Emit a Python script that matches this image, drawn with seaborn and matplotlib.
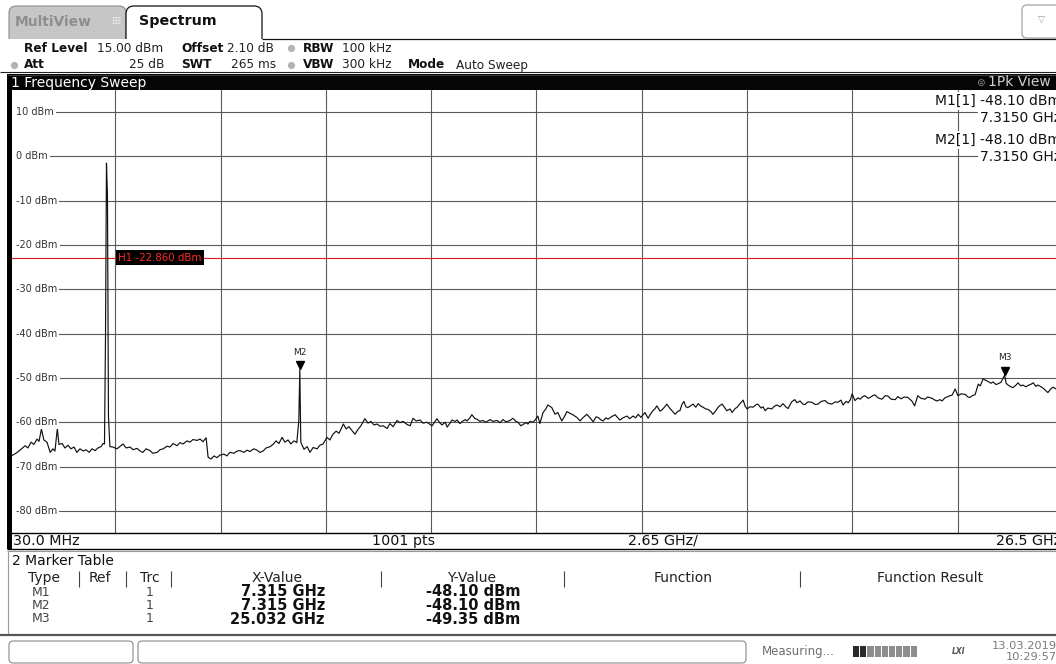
import numpy as np
import pandas as pd
import matplotlib
matplotlib.use("Agg")
import matplotlib.pyplot as plt
import seaborn as sns
from matplotlib.patches import Rectangle, FancyBboxPatch
from matplotlib.transforms import offset_copy, blended_transform_factory

# ---- instrument settings -------------------------------------------------
start_ghz = 0.03
stop_ghz = 26.5
sweep_points = 1001
ref_level_dbm = 15.0
db_per_div = 10
h1_level_dbm = -22.86

grid_dbm = [10, 0, -10, -20, -30, -40, -50, -60, -70, -80]

# ---- trace 1 (1Pk View) --------------------------------------------------
trace_ghz = [
    0.03, 0.08, 0.18, 0.28, 0.41, 0.48, 0.56, 0.63, 0.71, 0.76,
    0.82, 0.88, 0.96, 1.04, 1.11, 1.16, 1.22, 1.26, 1.34, 1.41,
    1.49, 1.56, 1.64, 1.71, 1.79, 1.87, 1.94, 2.02, 2.09, 2.17,
    2.24, 2.32, 2.37, 2.405, 2.43, 2.455, 2.48, 2.505, 2.54, 2.62,
    2.72, 2.80, 2.87, 2.95, 3.05, 3.12, 3.22, 3.30, 3.37, 3.45,
    3.55, 3.62, 3.73, 3.80, 3.88, 3.98, 4.05, 4.13, 4.23, 4.30,
    4.38, 4.48, 4.55, 4.63, 4.73, 4.81, 4.88, 4.96, 5.01, 5.08,
    5.16, 5.23, 5.31, 5.41, 5.48, 5.56, 5.66, 5.74, 5.81, 5.91,
    5.99, 6.06, 6.16, 6.24, 6.31, 6.39, 6.47, 6.57, 6.64, 6.72,
    6.79, 6.87, 6.94, 7.02, 7.09, 7.17, 7.24, 7.29, 7.315, 7.34,
    7.42, 7.50, 7.57, 7.65, 7.75, 7.82, 7.90, 8.00, 8.07, 8.15,
    8.23, 8.30, 8.41, 8.48, 8.55, 8.63, 8.70, 8.78, 8.85, 8.95,
    9.03, 9.10, 9.18, 9.26, 9.33, 9.41, 9.51, 9.58, 9.66, 9.76,
    9.83, 9.91, 10.01, 10.09, 10.16, 10.24, 10.34, 10.41, 10.51, 10.59,
    10.64, 10.71, 10.76, 10.84, 10.89, 10.97, 11.02, 11.09, 11.14, 11.22,
    11.27, 11.34, 11.39, 11.47, 11.52, 11.59, 11.64, 11.72, 11.77, 11.84,
    11.92, 11.99, 12.10, 12.17, 12.27, 12.35, 12.42, 12.50, 12.60, 12.67,
    12.75, 12.80, 12.87, 13.00, 13.05, 13.10, 13.18, 13.23, 13.30, 13.35,
    13.43, 13.50, 13.55, 13.60, 13.65, 13.73, 13.80, 13.90, 13.98, 14.03,
    14.11, 14.16, 14.23, 14.28, 14.36, 14.43, 14.53, 14.61, 14.69, 14.76,
    14.81, 14.89, 14.94, 15.01, 15.06, 15.16, 15.24, 15.31, 15.36, 15.44,
    15.54, 15.61, 15.69, 15.76, 15.82, 15.89, 15.99, 16.07, 16.12, 16.19,
    16.24, 16.29, 16.37, 16.42, 16.49, 16.54, 16.62, 16.67, 16.75, 16.82,
    16.87, 16.92, 16.97, 17.02, 17.07, 17.15, 17.20, 17.27, 17.33, 17.40,
    17.45, 17.52, 17.58, 17.65, 17.70, 17.78, 17.83, 17.88, 17.93, 18.00,
    18.05, 18.13, 18.18, 18.26, 18.31, 18.38, 18.46, 18.51, 18.56, 18.63,
    18.71, 18.79, 18.83, 18.91, 18.96, 19.01, 19.08, 19.18, 19.24, 19.31,
    19.39, 19.46, 19.54, 19.59, 19.64, 19.69, 19.76, 19.81, 19.89, 19.96,
    20.01, 20.09, 20.19, 20.27, 20.34, 20.42, 20.52, 20.59, 20.69, 20.77,
    20.84, 20.92, 20.97, 21.05, 21.10, 21.15, 21.20, 21.27, 21.35, 21.40,
    21.47, 21.52, 21.60, 21.65, 21.72, 21.77, 21.85, 21.95, 22.03, 22.10,
    22.18, 22.28, 22.35, 22.43, 22.51, 22.60, 22.70, 22.77, 22.85, 22.93,
    23.03, 23.10, 23.21, 23.28, 23.33, 23.41, 23.46, 23.53, 23.58, 23.66,
    23.71, 23.79, 23.86, 23.94, 24.04, 24.11, 24.16, 24.24, 24.29, 24.37,
    24.42, 24.49, 24.57, 24.62, 24.69, 24.74, 24.82, 24.87, 24.94, 25.032,
    25.07, 25.12, 25.19, 25.24, 25.32, 25.37, 25.44, 25.49, 25.57, 25.62,
    25.70, 25.75, 25.82, 25.87, 25.95, 26.00, 26.07, 26.12, 26.20, 26.25,
    26.35, 26.50,
]
trace_dbm = [
    -67.8, -67.5, -67.0, -66.3, -65.3, -65.8, -64.5, -65.0, -63.8, -64.3,
    -61.5, -64.0, -64.5, -66.8, -66.0, -66.5, -61.4, -65.0, -64.8, -65.8,
    -65.2, -66.0, -65.6, -66.8, -66.0, -66.5, -66.2, -66.8, -66.0, -66.4,
    -65.8, -65.5, -64.8, -64.9, -41.6, -1.5, -8.7, -58.6, -65.5, -65.6,
    -66.0, -65.4, -64.9, -65.8, -65.6, -66.2, -65.9, -66.5, -66.8, -66.0,
    -66.4, -67.0, -66.8, -66.2, -66.0, -65.4, -65.6, -64.8, -65.3, -64.6,
    -64.9, -64.2, -64.5, -63.9, -64.1, -63.8, -64.4, -63.5, -67.9, -68.3,
    -67.6, -68.0, -67.4, -67.2, -67.6, -66.8, -67.0, -66.5, -66.4, -66.8,
    -66.3, -66.6, -66.0, -66.3, -66.8, -66.5, -65.8, -65.5, -65.0, -64.2,
    -64.8, -63.4, -64.5, -64.0, -64.9, -64.2, -64.6, -59.6, -48.10, -64.5,
    -66.1, -65.5, -66.8, -65.7, -66.0, -65.2, -64.9, -63.4, -64.0, -62.7,
    -62.0, -62.5, -60.4, -61.5, -61.0, -61.9, -62.7, -61.6, -60.8, -59.2,
    -60.2, -59.8, -60.6, -60.4, -60.9, -60.8, -61.4, -60.3, -61.0, -59.6,
    -60.1, -59.8, -60.5, -60.8, -59.1, -59.7, -59.5, -60.2, -60.0, -60.5,
    -60.8, -59.9, -59.2, -60.2, -60.6, -60.0, -61.1, -60.2, -59.5, -59.8,
    -59.5, -60.3, -59.9, -59.4, -59.7, -59.0, -58.3, -59.2, -59.3, -59.8,
    -59.6, -60.0, -59.4, -59.8, -59.6, -60.1, -59.4, -59.9, -59.6, -59.1,
    -59.8, -60.0, -60.8, -60.1, -60.4, -59.8, -60.0, -59.5, -58.6, -60.3,
    -57.8, -57.0, -56.1, -56.4, -56.7, -58.2, -57.8, -59.7, -58.5, -57.6,
    -58.0, -58.2, -58.6, -58.9, -59.7, -59.0, -58.2, -59.0, -59.9, -58.8,
    -58.9, -59.5, -59.7, -59.0, -59.3, -58.7, -58.3, -59.0, -59.5, -59.0,
    -58.6, -59.2, -58.6, -59.0, -58.2, -58.9, -57.8, -59.1, -58.3, -57.4,
    -57.0, -56.3, -57.5, -57.2, -56.5, -55.9, -56.9, -57.4, -58.2, -57.5,
    -57.4, -56.0, -55.3, -56.5, -56.7, -56.2, -55.9, -56.6, -55.8, -56.4,
    -56.6, -57.0, -57.1, -57.6, -58.2, -57.3, -56.6, -56.2, -55.9, -56.8,
    -57.4, -57.0, -57.8, -56.9, -56.6, -55.8, -55.0, -56.4, -57.0, -56.5,
    -56.6, -56.0, -55.9, -56.8, -56.5, -57.4, -56.8, -57.0, -56.4, -56.1,
    -56.5, -55.8, -56.6, -56.9, -56.0, -55.3, -54.9, -55.6, -55.2, -55.9,
    -56.0, -55.4, -55.5, -56.0, -55.9, -55.3, -55.1, -55.7, -55.9, -55.4,
    -55.5, -55.0, -56.1, -55.3, -55.6, -55.0, -53.6, -55.1, -54.5, -54.8,
    -54.2, -54.0, -54.6, -54.4, -54.0, -53.8, -54.5, -54.8, -54.0, -54.1,
    -54.8, -54.9, -54.2, -54.7, -54.3, -54.4, -55.2, -56.3, -54.0, -54.6,
    -54.8, -54.3, -54.6, -55.0, -55.2, -54.9, -55.2, -54.5, -54.3, -54.0,
    -53.9, -52.5, -54.0, -53.6, -53.7, -54.3, -54.4, -53.9, -53.8, -51.4,
    -51.8, -50.2, -50.6, -50.8, -51.2, -50.9, -51.5, -51.3, -51.0, -49.35,
    -51.2, -51.6, -52.0, -52.2, -51.6, -51.1, -51.8, -51.6, -52.0, -51.7,
    -51.4, -51.1, -51.9, -51.6, -52.0, -52.3, -52.9, -53.3, -52.4, -52.1,
    -52.6, -52.3,
]
assert len(trace_ghz) == len(trace_dbm)

# ---- markers ---------------------------------------------------------------
marker_names = ["M1", "M2", "M3"]
marker_trc = [1, 1, 1]
marker_ghz = [7.315, 7.315, 25.032]
marker_dbm = [-48.10, -48.10, -49.35]

table_columns = ["Type", "Ref", "Trc", "X-Value", "Y-Value", "Function", "Function Result"]

W, H = 1056, 664

sns.set_theme(style="white")
plt.rcParams["font.family"] = ["DejaVu Sans"]

fig = plt.figure(figsize=(W / 100, H / 100), dpi=100)
fig.patch.set_facecolor("white")

# diagram area in screen pixels: x 10..1063, y 90..533 (runs past the right edge)
ax = fig.add_axes([10 / W, 1 - 533 / H, 1053 / W, 443 / H])
ax.set_facecolor("white")

df = pd.DataFrame({"ghz": trace_ghz, "dbm": trace_dbm})
sns.lineplot(data=df, x="ghz", y="dbm", ax=ax, color="#111111", linewidth=0.85,
             sort=False, estimator=None, zorder=3)
ax.set_xlim(start_ghz, stop_ghz)
ax.set_ylim(ref_level_dbm - 10 * db_per_div, ref_level_dbm)
ax.set_xticks(np.linspace(start_ghz, stop_ghz, 11))
ax.set_yticks(grid_dbm)
grid_c = "#5a5a5a"
ax.grid(True, axis="x", color=grid_c, linewidth=0.8)
for v in grid_dbm:
    # level lines start just right of the frame; the labels cover their left end
    ax.axhline(v, xmin=5 / 1053, xmax=1, color=grid_c, linewidth=0.8, zorder=0.6)
ax.tick_params(length=0, labelbottom=False, labelleft=False)
ax.set_xlabel("")
ax.set_ylabel("")
for sp in ax.spines.values():
    sp.set_visible(False)

lbl_tf = blended_transform_factory(ax.transAxes, ax.transData)
for v in grid_dbm:
    ax.text(6.5 / 1053, v, f"{v} dBm", transform=lbl_tf, ha="left", va="center",
            fontsize=7, color="#333333", zorder=4,
            bbox=dict(facecolor="white", edgecolor="none", pad=1.2))

# horizontal line H1
ax.axhline(h1_level_dbm, color="#e3161c", linewidth=0.8, zorder=2.5)
ax.text(108.5 / 1053, h1_level_dbm, f"H1 {h1_level_dbm:.3f} dBm", transform=lbl_tf,
        ha="left", va="center", fontsize=7.4, color="#ff2a2a", zorder=5,
        bbox=dict(facecolor="black", edgecolor="none", pad=1.8))

# marker symbols: tip of the triangle on the trace point, name above
tip_tf = offset_copy(ax.transData, fig=fig, x=0, y=4.3, units="dots")
pairs = list(zip(marker_ghz, marker_dbm))
for i, name in enumerate(marker_names):
    if pairs[i] in pairs[i + 1:]:
        continue  # hidden below a later marker at the same spot
    ax.plot([marker_ghz[i]], [marker_dbm[i]], marker="v", markersize=6, color="black",
            transform=tip_tf, zorder=6, clip_on=False)
    ax.annotate(name, (marker_ghz[i], marker_dbm[i]), xytext=(0, 12.5),
                textcoords="offset points", ha="center", va="center",
                fontsize=6.5, color="#222222", zorder=6)

# ---- screen furniture, drawn in pixel coordinates --------------------------
ui = fig.add_axes([0, 0, 1, 1], zorder=5)
ui.set_xlim(0, W)
ui.set_ylim(H, 0)
ui.axis("off")
ui.patch.set_alpha(0)


def box(x, y, w, h, fc, ec="none", lw=0.0, r=0, z=1):
    if r:
        p = FancyBboxPatch((x, y), w, h, boxstyle=f"round,pad=0,rounding_size={r}",
                           fc=fc, ec=ec, lw=lw, zorder=z)
    else:
        p = Rectangle((x, y), w, h, fc=fc, ec=ec, lw=lw, zorder=z)
    ui.add_patch(p)


def hline(y, x0, x1, color, lw=0.8, z=3):
    ui.plot([x0, x1], [y, y], color=color, lw=lw, zorder=z, solid_capstyle="butt")


def vline(x, y0, y1, color, lw=0.8, z=3):
    ui.plot([x, x], [y0, y1], color=color, lw=lw, zorder=z, solid_capstyle="butt")


def txt(x, y, s, size=10, color="#111111", weight="normal", ha="left", va="center",
        z=4, **kw):
    ui.text(x, y, s, fontsize=size, color=color, fontweight=weight, ha=ha, va=va,
            zorder=z, **kw)


# tabs
box(9, 6, 117, 45, fc="#c6c6c6", ec="#8c8c8c", lw=0.8, r=7, z=1)
box(126, 6, 136, 45, fc="white", ec="#111111", lw=0.9, r=8, z=2)
box(0, 38.6, W, 33, fc="white", z=2.5)
hline(38.5, 262, W, "#111111", lw=0.9)
txt(15, 22, "MultiView", size=10, color="#8e8e8e", weight="bold")
txt(117, 21, "⊞", size=8, color="#e8e8e8", ha="center")
txt(139, 21, "Spectrum", size=10.3, color="#111111", weight="bold")
box(1022, 5, 42, 33, fc="white", ec="#9a9a9a", lw=0.8, r=5, z=2)
txt(1041, 20, "▽", size=6.5, color="#9a9a9a", ha="center")

# setting lines
dot_c = "#b4b4b4"
s1, s2 = 48, 65
txt(24, s1, "Ref Level", size=8.7, weight="bold")
txt(97, s1, f"{ref_level_dbm:.2f} dBm", size=8.7, color="#222222")
txt(181, s1, "Offset", size=8.7, weight="bold")
txt(227, s1, "2.10 dB", size=8.7, color="#222222")
ui.plot([291], [s1], "o", ms=4.2, color=dot_c, zorder=4)
txt(303, s1, "RBW", size=8.7, weight="bold")
txt(342, s1, "100 kHz", size=8.7, color="#222222")
ui.plot([14], [s2], "o", ms=4.2, color=dot_c, zorder=4)
txt(24, s2, "Att", size=8.7, weight="bold")
txt(164, s2, "25 dB", size=8.7, color="#222222", ha="right")
txt(181, s2, "SWT", size=8.7, weight="bold")
txt(231, s2, "265 ms", size=8.7, color="#222222")
ui.plot([291], [s2], "o", ms=4.2, color=dot_c, zorder=4)
txt(303, s2, "VBW", size=8.7, weight="bold")
txt(342, s2, "300 kHz", size=8.7, color="#222222")
txt(408, s2, "Mode", size=8.7, weight="bold")
txt(456, s2, "Auto Sweep", size=8.7, color="#222222")
hline(72, 0, W, "#222222", lw=0.8)

# window title bar and left frame
box(7, 74, 1060, 16, fc="#050505", z=2)
hline(74.6, 7, W, "#3c3c3c", lw=0.8)
box(7, 74, 4.5, 475, fc="black", z=2)
txt(11, 82.5, "1 Frequency Sweep", size=10, color="white")
txt(980, 82.5, "⊜", size=7.5, color="#8a8a8a", ha="center")
txt(1051, 82.5, "1Pk View", size=10, color="#cfcfcf", ha="right")

# marker readout in the diagram corner
for k, i in enumerate([0, 1]):
    y0 = 101 + 39 * k
    txt(1061, y0, f"{marker_names[i]}[{marker_trc[i]}] {marker_dbm[i]:.2f} dBm",
        size=10, color="#111111", ha="right",
        bbox=dict(facecolor="white", edgecolor="none", pad=1.5))
    txt(1061, y0 + 17, f"{marker_ghz[i]:.4f} GHz", size=10, color="#111111", ha="right",
        bbox=dict(facecolor="white", edgecolor="none", pad=1.5))

# frequency axis strip
hline(533, 7, W, "black", lw=1.0)
strip_y = 541
txt(13, strip_y, f"{start_ghz * 1000:.1f} MHz", size=10.3)
txt(404, strip_y, f"{sweep_points} pts", size=10.3, ha="center")
txt(663, strip_y, f"{(stop_ghz - start_ghz) / 10:.2f} GHz/", size=10.3, ha="center")
txt(1061, strip_y, f"{stop_ghz:.1f} GHz", size=10.3, ha="right")
hline(549, 7, W, "black", lw=1.0)
hline(551, 7, W, "#9a9a9a", lw=0.8)

# marker table
vline(8, 551, 634, "#9a9a9a", lw=0.8)
txt(12, 561, "2 Marker Table", size=10)
col_x = [44, 100, 150, 277, 472, 683, 930]
for cx, name in zip(col_x, table_columns):
    txt(cx, 578, name, size=10, color="#222222", ha="center")
for sx in [79, 126, 171, 381, 564, 800]:
    vline(sx, 571, 587, "#444444", lw=0.8)
for r, i in enumerate(range(len(marker_names))):
    ry = 592 + 13.5 * r
    txt(41, ry, marker_names[i], size=9, color="#444444", ha="center")
    txt(150, ry, str(marker_trc[i]), size=9, color="#444444", ha="center")
    txt(325, ry, f"{marker_ghz[i]:.3f} GHz", size=10.5, weight="bold", ha="right")
    txt(520, ry, f"{marker_dbm[i]:.2f} dBm", size=10.5, weight="bold", ha="right")
hline(634.5, 0, W, "#555555", lw=1.6)

# status bar
box(9, 641, 124, 22, fc="white", ec="#8a8a8a", lw=0.8, r=4, z=2)
box(138, 641, 608, 22, fc="white", ec="#8a8a8a", lw=0.8, r=4, z=2)
txt(762, 652, "Measuring...", size=8.5, color="#6e6e6e")
for s in range(9):
    box(853 + s * 7.2, 646, 6.2, 11, fc="#2a2a2a" if s < 2 else "#8d8d8d", z=2)
txt(959, 651, "LXI", size=5.5, color="#555555", weight="bold", style="italic", ha="center")
txt(1057, 646, "13.03.2019", size=8.2, color="#7a7a7a", ha="right")
txt(1057, 657.5, "10:29:57", size=8.2, color="#7a7a7a", ha="right")

fig.savefig("out.png", dpi=100)
